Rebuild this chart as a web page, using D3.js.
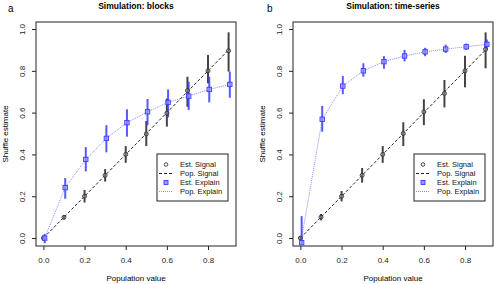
<!DOCTYPE html>
<html>
<head>
<meta charset="utf-8">
<script src="https://cdn.jsdelivr.net/npm/d3@7"></script>
<style>
  body { margin: 0; background: #fff; }
  svg { display: block; font-family: "Liberation Sans", Arial, sans-serif; }
</style>
</head>
<body>
<svg id="chart" width="494" height="284"></svg>
<script>
// Population values (x)
var popValues = [0, 0.1, 0.2, 0.3, 0.4, 0.5, 0.6, 0.7, 0.8, 0.9];
var xTicks = [0, 0.2, 0.4, 0.6, 0.8];
var yTicks = [0, 0.2, 0.4, 0.6, 0.8, 1.0];

// Panel a: blocks
var blocksSignal = [0.0, 0.099, 0.2, 0.3, 0.4, 0.498, 0.597, 0.705, 0.80, 0.896];
var blocksSignalLo = [-0.01, 0.09, 0.17, 0.27, 0.36, 0.44, 0.533, 0.628, 0.74, 0.796];
var blocksSignalHi = [0.01, 0.11, 0.23, 0.33, 0.44, 0.56, 0.667, 0.772, 0.876, 0.984];
var blocksExplain = [0.0, 0.241, 0.376, 0.477, 0.552, 0.604, 0.649, 0.679, 0.711, 0.735];
var blocksExplainLo = [-0.025, 0.188, 0.319, 0.41, 0.485, 0.54, 0.577, 0.612, 0.649, 0.671];
var blocksExplainHi = [0.02, 0.287, 0.435, 0.54, 0.616, 0.665, 0.711, 0.748, 0.772, 0.796];
var blocksPopExplain = [0.0, 0.241, 0.376, 0.477, 0.552, 0.604, 0.649, 0.679, 0.711, 0.735];

// Panel b: time-series
var tsSignal = [0.0, 0.1, 0.2, 0.3, 0.4, 0.50, 0.604, 0.692, 0.80, 0.903];
var tsSignalLo = [-0.01, 0.085, 0.175, 0.265, 0.36, 0.44, 0.54, 0.625, 0.721, 0.812];
var tsSignalHi = [0.01, 0.115, 0.225, 0.335, 0.44, 0.554, 0.664, 0.756, 0.872, 0.984];
var tsExplain = [-0.022, 0.568, 0.727, 0.80, 0.844, 0.871, 0.891, 0.904, 0.915, 0.927];
var tsExplainLo = [-0.03, 0.509, 0.688, 0.772, 0.81, 0.845, 0.87, 0.885, 0.90, 0.90];
var tsExplainHi = [0.105, 0.632, 0.775, 0.836, 0.87, 0.90, 0.91, 0.925, 0.93, 0.95];
var tsPopExplain = [0.0, 0.568, 0.727, 0.80, 0.844, 0.871, 0.891, 0.904, 0.915, 0.927];

var legendLabels = ['Est. Signal', 'Pop. Signal', 'Est. Explain', 'Pop. Explain'];

var svg = d3.select('#chart');
var blue = '#3b3bff';
var lightBlue = '#8a8aff';
var dark = '#333';

var yScale = d3.scaleLinear().domain([-0.038, 1.0335]).range([246, 22]);

function drawPanel(opts) {
  var xScale = d3.scaleLinear().domain([-0.036, 0.936]).range([opts.left, opts.left + 200]);
  var g = svg.append('g');
  var left = xScale.range()[0], right = xScale.range()[1];
  var top = yScale.range()[1], bottom = yScale.range()[0];

  // Axes
  var xAxis = d3.axisBottom(xScale).tickValues(xTicks).tickSize(4).tickFormat(d3.format('.1f'));
  var gx = g.append('g').attr('transform', 'translate(0,' + bottom + ')').call(xAxis);
  gx.select('.domain').remove();
  gx.selectAll('text').attr('dy', null).attr('y', 17).style('font-size', '8px').attr('fill', '#222');
  gx.selectAll('line').attr('stroke', '#222');

  var yAxis = d3.axisLeft(yScale).tickValues(yTicks).tickSize(4).tickFormat(d3.format('.1f'));
  var gy = g.append('g').attr('transform', 'translate(' + left + ',0)').call(yAxis);
  gy.select('.domain').remove();
  gy.selectAll('line').attr('stroke', '#222');
  gy.selectAll('text')
    .attr('x', null).attr('dy', null)
    .attr('text-anchor', 'middle')
    .attr('transform', 'translate(-11,0) rotate(-90)')
    .attr('y', 0)
    .style('font-size', '8px').attr('fill', '#222');

  g.append('rect')
    .attr('x', left).attr('y', top)
    .attr('width', right - left).attr('height', bottom - top)
    .attr('fill', 'none').attr('stroke', '#222').attr('stroke-width', 1);

  // Labels
  g.append('text')
    .attr('x', (left + right) / 2).attr('y', 9)
    .attr('text-anchor', 'middle')
    .style('font-size', '8.5px').style('font-weight', 'bold')
    .text(opts.title);
  g.append('text')
    .attr('x', opts.letterX).attr('y', 12)
    .style('font-size', '10px')
    .text(opts.letter);
  g.append('text')
    .attr('x', (left + right) / 2).attr('y', 281)
    .attr('text-anchor', 'middle')
    .style('font-size', '8px')
    .text('Population value');
  g.append('text')
    .attr('transform', 'translate(' + (left - 28) + ',' + ((top + bottom) / 2) + ') rotate(-90)')
    .attr('text-anchor', 'middle')
    .style('font-size', '8px')
    .text('Shuffle estimate');

  var off = 0.006;

  // Pop. Signal line (dashed)
  var line = d3.line()
    .x(function(d) { return xScale(d[0]); })
    .y(function(d) { return yScale(d[1]); });
  g.append('path')
    .datum(popValues.map(function(v) { return [v, v]; }))
    .attr('d', line)
    .attr('fill', 'none').attr('stroke', '#222')
    .attr('stroke-width', 1).attr('stroke-dasharray', '3,2');

  // Pop. Explain line (dotted)
  g.append('path')
    .datum(popValues.map(function(v, i) { return [v + off, opts.popExplain[i]]; }))
    .attr('d', line)
    .attr('fill', 'none').attr('stroke', lightBlue)
    .attr('stroke-width', 1).attr('stroke-dasharray', '1,1');

  // Error bars signal
  g.selectAll('.sigbar').data(popValues).enter().append('line')
    .attr('x1', function(d) { return xScale(d); })
    .attr('x2', function(d) { return xScale(d); })
    .attr('y1', function(d, i) { return yScale(opts.signalLo[i]); })
    .attr('y2', function(d, i) { return yScale(opts.signalHi[i]); })
    .attr('stroke', '#444').attr('stroke-width', 2);

  // Error bars explain
  g.selectAll('.expbar').data(popValues).enter().append('line')
    .attr('x1', function(d) { return xScale(d + off); })
    .attr('x2', function(d) { return xScale(d + off); })
    .attr('y1', function(d, i) { return yScale(opts.explainLo[i]); })
    .attr('y2', function(d, i) { return yScale(opts.explainHi[i]); })
    .attr('stroke', blue).attr('stroke-opacity', 0.85).attr('stroke-width', 2);

  // Signal points
  g.selectAll('.sig').data(popValues).enter().append('circle')
    .attr('cx', function(d) { return xScale(d); })
    .attr('cy', function(d, i) { return yScale(opts.signal[i]); })
    .attr('r', 2)
    .attr('fill', '#999').attr('fill-opacity', 0.5)
    .attr('stroke', dark).attr('stroke-width', 0.9);

  // Explain points
  g.selectAll('.exp').data(popValues).enter().append('rect')
    .attr('x', function(d) { return xScale(d + off) - 2.2; })
    .attr('y', function(d, i) { return yScale(opts.explain[i]) - 2.2; })
    .attr('width', 4.4).attr('height', 4.4)
    .attr('fill', '#9a9aff').attr('fill-opacity', 0.7)
    .attr('stroke', blue).attr('stroke-width', 0.9);

  // Legend
  var lx = opts.legendX, ly = 154;
  var lg = g.append('g');
  lg.append('rect')
    .attr('x', lx).attr('y', ly).attr('width', 71).attr('height', 47)
    .attr('fill', '#fff').attr('stroke', '#222').attr('stroke-width', 1);
  legendLabels.forEach(function(lab, i) {
    var yy = ly + 10.5 + i * 9;
    var sx = lx + 9;
    if (i === 0) {
      lg.append('circle').attr('cx', sx).attr('cy', yy).attr('r', 1.8)
        .attr('fill', 'none').attr('stroke', dark).attr('stroke-width', 0.9);
    } else if (i === 1) {
      lg.append('line').attr('x1', lx + 2).attr('x2', lx + 16).attr('y1', yy).attr('y2', yy)
        .attr('stroke', '#222').attr('stroke-dasharray', '3,2');
    } else if (i === 2) {
      lg.append('rect').attr('x', sx - 2).attr('y', yy - 2).attr('width', 4).attr('height', 4)
        .attr('fill', '#9a9aff').attr('stroke', blue).attr('stroke-width', 0.9);
    } else {
      lg.append('line').attr('x1', lx + 2).attr('x2', lx + 16).attr('y1', yy).attr('y2', yy)
        .attr('stroke', lightBlue).attr('stroke-dasharray', '1,1');
    }
    lg.append('text').attr('x', lx + 23).attr('y', yy + 2.7)
      .style('font-size', '7.5px').attr('fill', '#111').text(lab);
  });
}

drawPanel({
  left: 36, title: 'Simulation: blocks', letter: 'a', letterX: 8,
  signal: blocksSignal, signalLo: blocksSignalLo, signalHi: blocksSignalHi,
  explain: blocksExplain, explainLo: blocksExplainLo, explainHi: blocksExplainHi,
  popExplain: blocksPopExplain, legendX: 157
});

drawPanel({
  left: 293, title: 'Simulation: time-series', letter: 'b', letterX: 267,
  signal: tsSignal, signalLo: tsSignalLo, signalHi: tsSignalHi,
  explain: tsExplain, explainLo: tsExplainLo, explainHi: tsExplainHi,
  popExplain: tsPopExplain, legendX: 414
});
</script>
</body>
</html>
